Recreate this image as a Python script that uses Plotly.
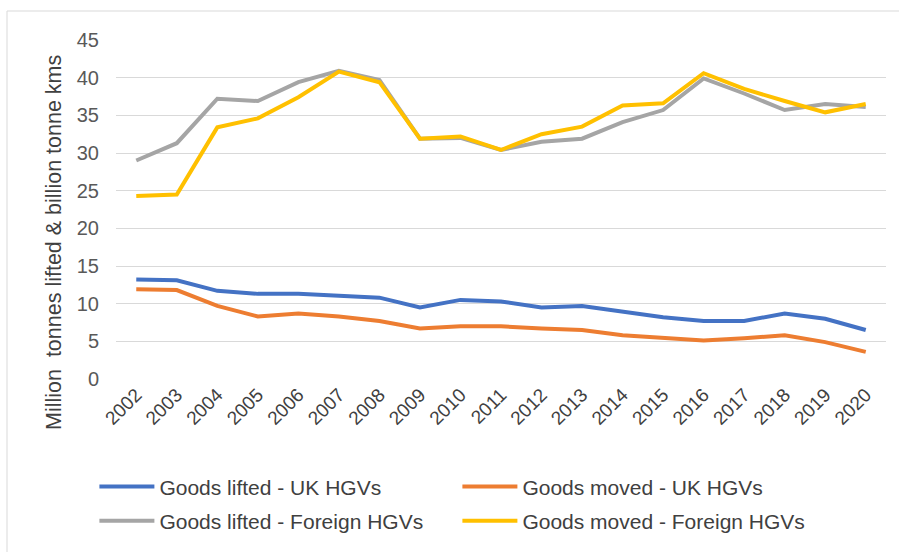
import plotly.graph_objects as go

years = [str(y) for y in range(2002, 2021)]
lifted_uk = [13.2, 13.1, 11.7, 11.3, 11.3, 11.0, 10.8, 9.5, 10.5, 10.3, 9.5, 9.7, 8.9, 8.2, 7.7, 7.7, 8.7, 8.0, 6.5]
moved_uk = [11.9, 11.8, 9.7, 8.3, 8.7, 8.3, 7.7, 6.7, 7.0, 7.0, 6.7, 6.5, 5.8, 5.4, 5.1, 5.4, 5.8, 4.9, 3.6]
lifted_foreign = [29.0, 31.3, 37.2, 36.9, 39.4, 40.9, 39.7, 31.9, 32.0, 30.4, 31.5, 31.9, 34.1, 35.7, 39.9, 37.9, 35.7, 36.5, 36.1]
moved_foreign = [24.3, 24.5, 33.4, 34.6, 37.4, 40.8, 39.4, 31.9, 32.2, 30.4, 32.5, 33.5, 36.3, 36.6, 40.6, 38.5, 36.9, 35.4, 36.5]

names = ["Goods lifted - UK HGVs", "Goods moved - UK HGVs",
         "Goods lifted - Foreign HGVs", "Goods moved - Foreign HGVs"]
series = [lifted_uk, moved_uk, lifted_foreign, moved_foreign]
colors = ["#4472C4", "#ED7D31", "#A5A5A5", "#FFC000"]
legends = ["legend", "legend", "legend2", "legend2"]
y_title = "Million  tonnes lifted & billion tonne kms"

fig = go.Figure()
for n, s, c, lg in zip(names, series, colors, legends):
    fig.add_trace(go.Scatter(x=years, y=s, name=n, mode="lines",
                             line=dict(color=c, width=4), legend=lg))

font = "Liberation Sans, Arial, sans-serif"
leg_common = dict(orientation="h", xref="container", yref="container",
                  xanchor="left", yanchor="middle",
                  entrywidth=293, entrywidthmode="pixels", itemwidth=55,
                  font=dict(size=21, color="#404040"), bgcolor="rgba(0,0,0,0)")
fig.update_layout(
    width=899, height=552,
    margin=dict(l=116, r=13, t=40, b=173),
    paper_bgcolor="white", plot_bgcolor="white",
    font=dict(family=font, color="#404040"),
    xaxis=dict(type="category", range=[-0.5, 18.5], tickangle=-45,
               tickfont=dict(size=19, color="#404040"), showgrid=False,
               showline=False, ticks=""),
    yaxis=dict(range=[0, 45], dtick=5, showgrid=True, gridcolor="#D9D9D9",
               gridwidth=1, zeroline=False, tickfont=dict(size=20, color="#595959"),
               ticks="", ticklabelstandoff=16),
    legend=dict(x=0.105, y=0.118, **leg_common),
    legend2=dict(x=0.105, y=0.056, **leg_common),
    showlegend=True,
)
fig.add_annotation(text=y_title, textangle=-90, xref="paper", yref="paper",
                   x=(54 - 116) / 770, y=(379 - 243) / 339, showarrow=False,
                   xanchor="center", yanchor="middle",
                   font=dict(size=21.5, color="#404040", family=font))
fig.add_shape(type="rect", xref="paper", yref="paper",
              x0=(7 - 116) / 770, x1=(905 - 116) / 770,
              y0=(379 - 560) / 339, y1=(379 - 11) / 339,
              line=dict(color="#D9D9D9", width=1), fillcolor="rgba(0,0,0,0)", layer="below")
fig.write_html("out.html")
